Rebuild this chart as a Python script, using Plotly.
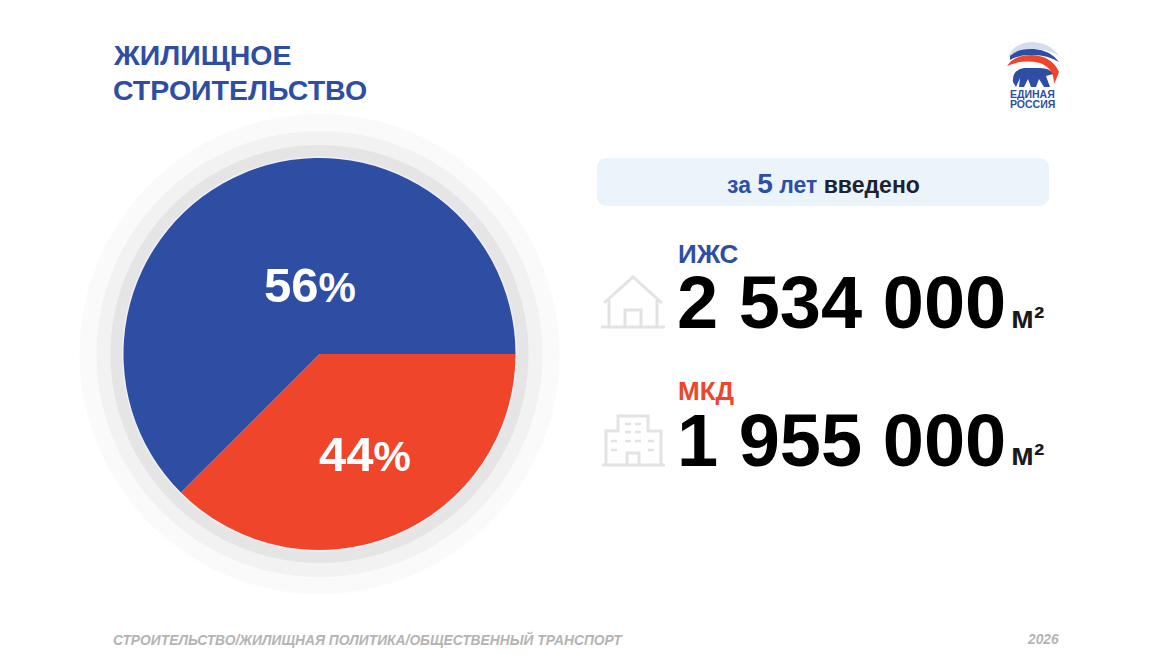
import plotly.graph_objects as go

# shares as drawn in the picture (labels on the slices say 56 / 44)
categories = ["ИЖС", "МКД"]
slice_shares = [62.5, 37.5]
slice_labels = ["56", "44"]
slice_colors = ["#2E4EA4", "#EE452B"]
amounts = ["2 534 000", "1 955 000"]

BLUE = "#2E4EA4"
RED = "#EE452B"
FONT = "Liberation Sans"
W, H = 1172, 659
CX, CY, R = 319.5, 354, 196


def circle(r, color):
    return dict(type="circle", xref="x", yref="y", x0=CX - r, x1=CX + r, y0=CY - r, y1=CY + r,
                fillcolor=color, line_width=0, layer="below")


def path(d, fill="rgba(0,0,0,0)", line=None, width=0):
    return dict(type="path", xref="x", yref="y", path=d, fillcolor=fill,
                line=dict(color=line or "rgba(0,0,0,0)", width=width), layer="below")


def text(x, y, s, size, color, anchor="left", bold=True, italic=False):
    if bold:
        s = "<b>" + s + "</b>"
    if italic:
        s = "<i>" + s + "</i>"
    return dict(x=x, y=y, xref="x", yref="y", text=s, showarrow=False, xanchor=anchor, yanchor="middle",
                font=dict(family=FONT, size=size, color=color))


fig = go.Figure()

# empty trace keeps the pixel axes alive
fig.add_trace(go.Scatter(x=[0, W], y=[0, H], mode="markers", marker=dict(opacity=0), hoverinfo="skip", showlegend=False))

fig.add_trace(go.Pie(
    labels=categories, values=slice_shares, sort=False, direction="clockwise", rotation=225,
    marker=dict(colors=slice_colors, line=dict(width=0)), textinfo="none", hoverinfo="label",
    showlegend=False,
    domain=dict(x=[(CX - R) / W, (CX + R) / W], y=[1 - (CY + R) / H, 1 - (CY - R) / H]),
))

shapes = [circle(240, "#FAFAFA"), circle(223, "#F2F2F2"), circle(209, "#E5E5E5"), circle(197.5, "#EEF0F6")]

# banner
shapes.append(path("M 608 158 L 1038 158 Q 1049 158 1049 169 L 1049 195 Q 1049 206 1038 206 "
                   "L 608 206 Q 597 206 597 195 L 597 169 Q 597 158 608 158 Z", fill="#EBF3FB"))

# house icon
ic = "#E3E3E3"
shapes.append(path("M 601 327 L 665 327", line=ic, width=3))
shapes.append(path("M 604 303 L 633 277 L 662 303", line=ic, width=3))
shapes.append(path("M 609 300 L 609 327 M 657 300 L 657 327", line=ic, width=3))
shapes.append(path("M 625 327 L 625 310 L 641 310 L 641 327", line=ic, width=3))

# building icon
shapes.append(path("M 602 465 L 665 465", line=ic, width=3))
shapes.append(path("M 606 465 L 606 431 L 618 431 L 618 416 L 648 416 L 648 431 L 661 431 L 661 465", line=ic, width=3))
shapes.append(path("M 627 465 L 627 453 L 639 453 L 639 465", line=ic, width=3))
for y0, xs in [(424, [628, 638]), (432, [628, 638]), (441, [614, 628, 638, 651]), (450, [614, 651])]:
    for x0 in xs:
        shapes.append(path(f"M {x0 - 3} {y0} L {x0 + 3} {y0}", line=ic, width=2.5))

# logo: flag swoosh and bear
shapes.append(path("M 1008 58 Q 1012 44 1030 42 Q 1050 42 1059 56 Q 1044 47 1030 50 Q 1016 50 1008 58 Z", fill="#D5DCEC"))
shapes.append(path("M 1010 56 Q 1018 48 1034 49 Q 1050 50 1059 62 Q 1046 54 1030 55 Q 1018 55 1010 60 Z", fill=BLUE))
shapes.append(path("M 1007 66 Q 1014 55 1032 55 Q 1052 56 1059 72 Q 1056 80 1054 84 Q 1054 68 1040 63 Q 1022 59 1007 66 Z", fill=RED))
shapes.append(path("M 1013 82 Q 1012 70 1024 68 L 1040 68 Q 1050 68 1053 74 L 1046 76 L 1050 87 L 1044 87 L 1039 79 "
                   "L 1036 87 L 1031 87 L 1028 79 L 1024 87 L 1019 87 L 1020 78 L 1016 87 Z", fill=BLUE))

annotations = [
    text(111, 55, "ЖИЛИЩНОЕ", 28.5, BLUE),
    text(111, 90, "СТРОИТЕЛЬСТВО", 28.5, BLUE),
    text(1032.5, 94, "ЕДИНАЯ", 10.5, BLUE, "center"),
    text(1032.5, 104, "РОССИЯ", 10.5, BLUE, "center"),
    text(823, 183.5, f'<span style="color:{BLUE}">за <span style="font-size:28px">5</span> лет</span> введено',
         23, "#1B2233", "center"),
    text(262, 285, f'{slice_labels[0]}<span style="font-size:42px">%</span>', 49, "#FFFFFF"),
    text(317, 454, f'{slice_labels[1]}<span style="font-size:42px">%</span>', 49, "#FFFFFF"),
    text(676, 254, categories[0], 26, BLUE),
    text(676, 391, categories[1], 26, RED),
    text(675, 302, amounts[0], 74, "#000000"),
    text(675, 440, amounts[1], 74, "#000000"),
    text(1009, 317, "м²", 31, "#1A1A1A"),
    text(1009, 454, "м²", 31, "#1A1A1A"),
    text(111, 639, "СТРОИТЕЛЬСТВО/ЖИЛИЩНАЯ ПОЛИТИКА/ОБЩЕСТВЕННЫЙ ТРАНСПОРТ", 13.8, "#B4B4B4", italic=True),
    text(1061, 639, "2026", 13.8, "#B4B4B4", "right", italic=True),
]

fig.update_layout(
    width=W, height=H, margin=dict(l=0, r=0, t=0, b=0), paper_bgcolor="#FFFFFF", plot_bgcolor="#FFFFFF",
    xaxis=dict(range=[0, W], visible=False, fixedrange=True),
    yaxis=dict(range=[H, 0], visible=False, fixedrange=True),
    shapes=shapes, annotations=annotations, showlegend=False,
)

# the page's default body margin would shift everything by 8px
fig.write_html("out.html", config=dict(displayModeBar=False), post_script="document.body.style.margin='0';")
